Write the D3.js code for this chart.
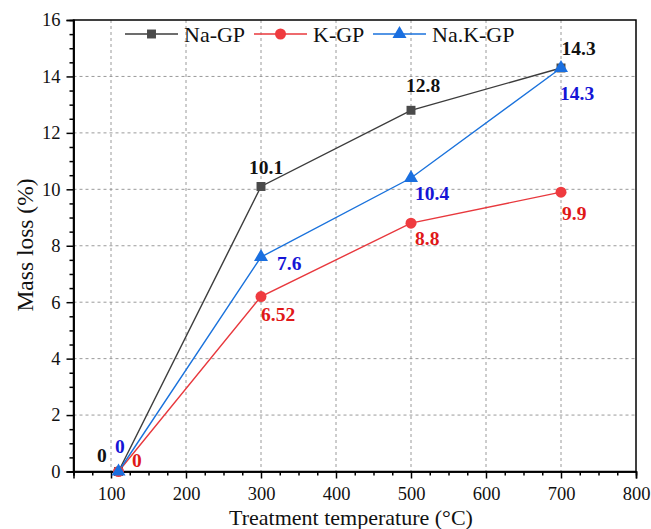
<!DOCTYPE html>
<html>
<head>
<meta charset="utf-8">
<script src="https://cdn.jsdelivr.net/npm/d3@7"></script>
<style>
  body { margin: 0; background: #fff; }
  svg { display: block; }
  svg text { font-family: "Liberation Serif", "Times New Roman", serif; }
</style>
</head>
<body>
<svg id="chart"></svg>
<script>
const WIDTH = 651;
const HEIGHT = 529;
const LEFT = 73.5, RIGHT = 636, TOP = 20, BOTTOM = 471.5;

// data
const temperatures = [110, 300, 500, 700];
const naGP = [0, 10.1, 12.8, 14.3];
const kGP = [0, 6.2, 8.8, 9.9];
const naKGP = [0, 7.6, 10.4, 14.3];
const naGPLabels = ["0", "10.1", "12.8", "14.3"];
const kGPLabels = ["0", "6.52", "8.8", "9.9"];
const naKGPLabels = ["0", "7.6", "10.4", "14.3"];
const seriesNames = ["Na-GP", "K-GP", "Na.K-GP"];
const xTicks = [100, 200, 300, 400, 500, 600, 700, 800];
const yTicks = [0, 2, 4, 6, 8, 10, 12, 14, 16];

// label offsets (px) relative to the point, per series
const labelOffsets = {
  "Na-GP": [[-21.5, -9.5], [-12, -12.5], [-5, -18.5], [0.5, -13]],
  "K-GP": [[13.5, -4.5], [0, 24], [4, 22], [1, 28]],
  "Na.K-GP": [[-3.5, -18.5], [16, 13], [4, 22], [-1, 32]]
};

const series = [
  { name: seriesNames[0], values: naGP, labels: naGPLabels, line: "#3c3c3c", marker: "#4a4a4a", text: "#111", shape: d3.symbolSquare, size: 80 },
  { name: seriesNames[1], values: kGP, labels: kGPLabels, line: "#e8383d", marker: "#ef3b3f", text: "#e01818", shape: d3.symbolCircle, size: 95 },
  { name: seriesNames[2], values: naKGP, labels: naKGPLabels, line: "#1a72dc", marker: "#1a6fe0", text: "#1515d6", shape: d3.symbolTriangle, size: 85 }
];

const x = d3.scaleLinear().domain([50, 800]).range([LEFT, RIGHT]);
const y = d3.scaleLinear().domain([0, 16]).range([BOTTOM, TOP]);

const svg = d3.select('#chart').attr('width', WIDTH).attr('height', HEIGHT);

// grid
svg.append('g').selectAll('line')
  .data(xTicks.filter(t => t < 800))
  .join('line')
  .attr('x1', d => x(d)).attr('x2', d => x(d))
  .attr('y1', TOP).attr('y2', BOTTOM)
  .attr('stroke', '#9a9a9a').attr('stroke-width', 1).attr('stroke-dasharray', '3,3');
svg.append('g').selectAll('line')
  .data(yTicks.filter(t => t > 0 && t < 16))
  .join('line')
  .attr('x1', LEFT).attr('x2', RIGHT)
  .attr('y1', d => y(d)).attr('y2', d => y(d))
  .attr('stroke', '#9a9a9a').attr('stroke-width', 1).attr('stroke-dasharray', '3,3');

// frame
svg.append('rect')
  .attr('x', LEFT).attr('y', TOP)
  .attr('width', RIGHT - LEFT).attr('height', BOTTOM - TOP)
  .attr('fill', 'none').attr('stroke', '#000').attr('stroke-width', 1.5);

// axes
const xAxis = svg.append('g').attr('transform', `translate(0,${BOTTOM})`)
  .call(d3.axisBottom(x).tickValues(xTicks).tickSize(7).tickPadding(8).tickFormat(d3.format('d')));
const xMinor = svg.append('g').attr('transform', `translate(0,${BOTTOM})`)
  .call(d3.axisBottom(x).tickValues(d3.range(50, 801, 25).filter(v => v % 100 !== 0)).tickSize(4).tickFormat(''));
const yAxis = svg.append('g').attr('transform', `translate(${LEFT},0)`)
  .call(d3.axisLeft(y).tickValues(yTicks).tickSize(7).tickPadding(6));
const yMinor = svg.append('g').attr('transform', `translate(${LEFT},0)`)
  .call(d3.axisLeft(y).tickValues(d3.range(0, 16.01, 0.5).filter(v => v % 2 !== 0)).tickSize(4).tickFormat(''));

[xAxis, xMinor, yAxis, yMinor].forEach(g => {
  g.attr('font-family', null).attr('font-size', null);
  g.select('.domain').attr('stroke-width', 1.5);
  g.selectAll('.tick line').attr('stroke-width', 1.5);
  g.selectAll('.tick text')
    .style('font-size', '18.5px')
    .attr('fill', '#111');
});

svg.append('text')
  .attr('x', 351).attr('y', 525)
  .attr('text-anchor', 'middle').style('font-size', '22px').attr('fill', '#111')
  .text('Treatment temperature (°C)');
svg.append('text')
  .attr('transform', `translate(33,245) rotate(-90)`)
  .attr('text-anchor', 'middle').style('font-size', '23.5px').attr('fill', '#111')
  .text('Mass loss (%)');

// lines + markers
const lineGen = d3.line().x(d => x(d[0])).y(d => y(d[1]));
series.forEach(s => {
  const pts = temperatures.map((t, i) => [t, s.values[i]]);
  svg.append('path')
    .datum(pts)
    .attr('d', lineGen)
    .attr('fill', 'none').attr('stroke', s.line).attr('stroke-width', 1.4);
});
series.forEach(s => {
  const pts = temperatures.map((t, i) => [t, s.values[i]]);
  svg.append('g').selectAll('path')
    .data(pts)
    .join('path')
    .attr('transform', d => `translate(${x(d[0])},${y(d[1])})`)
    .attr('d', d3.symbol().type(s.shape).size(s.size))
    .attr('fill', s.marker);
});

// value labels
series.forEach(s => {
  svg.append('g').selectAll('text')
    .data(temperatures.map((t, i) => ({ t, v: s.values[i], label: s.labels[i], off: labelOffsets[s.name][i] })))
    .join('text')
    .attr('x', d => x(d.t) + d.off[0])
    .attr('y', d => y(d.v) + d.off[1])
    .style('font-size', '19.5px').attr('font-weight', 'bold')
    .attr('fill', s.text)
    .text(d => d.label);
});

// legend
const legendX = [125, 254, 373];
series.forEach((s, i) => {
  const g = svg.append('g').attr('transform', `translate(${legendX[i]},34)`);
  g.append('line').attr('x1', 0).attr('x2', 53).attr('y1', 0).attr('y2', 0)
    .attr('stroke', s.line).attr('stroke-width', 1.4);
  g.append('path').attr('transform', 'translate(26.5,0)')
    .attr('d', d3.symbol().type(s.shape).size(s.size)).attr('fill', s.marker);
  g.append('text').attr('x', 59).attr('y', 7.5)
    .style('font-size', '22px').attr('fill', '#111').text(s.name);
});
</script>
</body>
</html>
